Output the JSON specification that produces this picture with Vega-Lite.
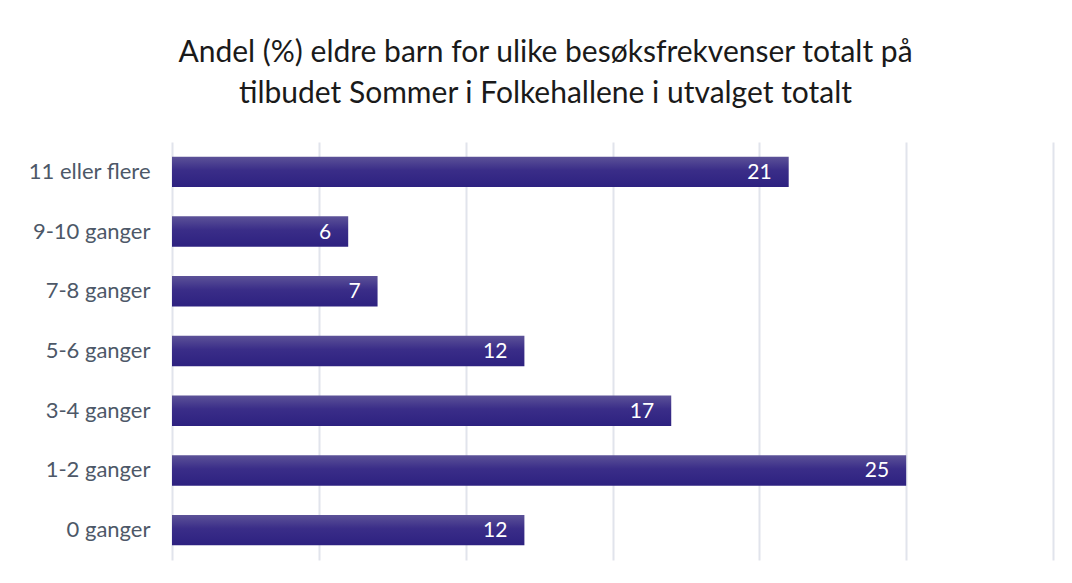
{
  "$schema": "https://vega.github.io/schema/vega-lite/v6.json",
  "width": 881,
  "height": 418,
  "autosize": {"type": "none"},
  "padding": {"left": 172, "top": 142, "right": 19, "bottom": 23},
  "background": "white",
  "title": {
    "text": ["Andel (%) eldre barn for ulike besøksfrekvenser totalt på", "tilbudet Sommer i Folkehallene i utvalget totalt"],
    "font": "Lato",
    "fontSize": 30,
    "fontWeight": "normal",
    "color": "#1a1a1a",
    "lineHeight": 41,
    "anchor": "middle",
    "frame": "group",
    "dx": -67,
    "offset": 33
  },
  "config": {
    "view": {"stroke": null},
    "font": "Lato"
  },
  "data": {
    "values": [
      {"kategori": "11 eller flere", "andel": 21},
      {"kategori": "9-10 ganger", "andel": 6},
      {"kategori": "7-8 ganger", "andel": 7},
      {"kategori": "5-6 ganger", "andel": 12},
      {"kategori": "3-4 ganger", "andel": 17},
      {"kategori": "1-2 ganger", "andel": 25},
      {"kategori": "0 ganger", "andel": 12}
    ]
  },
  "encoding": {
    "y": {
      "field": "kategori",
      "type": "nominal",
      "sort": null,
      "scale": {"paddingInner": 0.49, "paddingOuter": 0.245},
      "axis": {
        "title": null,
        "ticks": false,
        "domain": false,
        "labelFontSize": 22,
        "labelColor": "#4d5868",
        "labelPadding": 22,
        "grid": false
      }
    },
    "x": {
      "field": "andel",
      "type": "quantitative",
      "scale": {"domain": [0, 30], "nice": false},
      "axis": {
        "title": null,
        "labels": false,
        "ticks": false,
        "domain": false,
        "values": [0, 5, 10, 15, 20, 25, 30],
        "grid": true,
        "gridColor": "#e1e4ec",
        "gridWidth": 2
      }
    }
  },
  "layer": [
    {
      "mark": {
        "type": "bar",
        "color": {
          "gradient": "linear",
          "x1": 0, "y1": 0, "x2": 0, "y2": 1,
          "stops": [
            {"offset": 0, "color": "#5c5298"},
            {"offset": 0.45, "color": "#3a2d88"},
            {"offset": 1, "color": "#2d2180"}
          ]
        }
      }
    },
    {
      "mark": {
        "type": "text",
        "align": "right",
        "baseline": "middle",
        "dx": -17,
        "dy": 1,
        "color": "white",
        "fontSize": 21
      },
      "encoding": {
        "text": {"field": "andel", "type": "quantitative"}
      }
    }
  ]
}
